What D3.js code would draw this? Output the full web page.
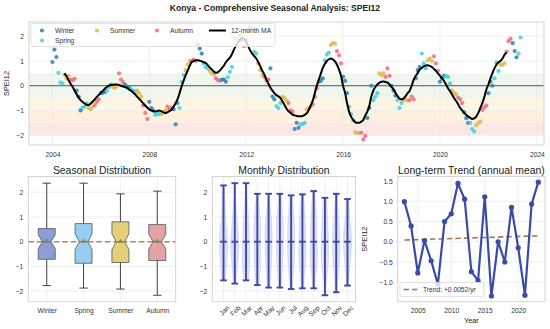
<!DOCTYPE html>
<html>
<head>
<meta charset="utf-8">
<script src="https://cdn.jsdelivr.net/npm/d3@7"></script>
<style>
body { margin: 0; background: #fff; }
svg { display: block; }
</style>
</head>
<body>
<svg id="chart" width="550" height="329"></svg>
<script>
/* data */
var seasons = ["Winter", "Spring", "Summer", "Autumn"];
var monthNames = ["Jan","Feb","Mar","Apr","May","Jun","Jul","Aug","Sep","Oct","Nov","Dec"];

// monthly SPEI12, first value is Dec 2003, last is Apr 2023
var speiStart = [2003, 12];
var spei = [
  0.96,
  1.46, 1.16, 0.52, 0.13, 0.09, 0.45, 0.30, 0.40, 0.25, 0.23, 0.28, -0.20,   // 2004
  -0.45, -1.00, -0.88, -0.84, -0.71, -0.90, -0.95, -0.85, -0.78, -0.65, -0.55, -0.30, // 2005
  -0.28, -0.25, -0.20, -0.05, 0.05, -0.05, -0.08, 0.00, 0.50, 0.25, 0.15, 0.05,   // 2006
  -0.05, -0.10, -0.15, -0.20, -0.25, -0.20, -0.30, -0.45, -0.80, -1.10, -1.35, -0.65, // 2007
  -0.90, -1.00, -1.18, -1.12, -1.15, -1.14, -1.10, -1.00, -0.84, -0.95, -0.88, -0.95, // 2008
  -1.56, -0.70, -0.90, 0.16, 0.43, 0.63, 0.85, 1.00, 1.00, 1.05, 1.00, 1.67,   // 2009
  1.50, 1.30, 0.90, 0.75, 0.70, 0.60, 0.50, 0.45, 0.30, 0.23, 0.20, 0.25,      // 2010
  0.25, 0.16, 0.35, 0.56, 0.76, 1.95, 1.87, 1.90, 2.05, 1.80, 1.60, 1.83,      // 2011
  2.25, 2.35, 2.35, 1.37, 1.30, 0.90, 0.63, 0.43, 0.36, 0.23, 0.25, 0.70,      // 2012
  -0.44, -0.55, -0.82, -0.90, -0.70, -0.45, -0.50, -0.60, -0.70, -1.00, -1.05, -1.75, // 2013
  -1.50, -1.70, -1.56, -1.55, -1.50, -0.95, -0.90, -0.85, -0.75, -0.45, -0.10, 0.16,  // 2014
  0.20, 0.30, 1.03, 1.26, 1.34, 1.65, 1.72, 1.70, 1.40, 1.23, 0.90, 0.36,      // 2015
  0.20, -0.30, -0.85, -1.15, -1.40, -1.87, -1.92, -1.90, -1.90, -2.17, -2.03, -1.30, // 2016
  -0.90, 0.00, -0.58, -0.45, -0.30, 0.50, 0.43, 0.50, 0.36, 0.70, 0.40, 0.00,  // 2017
  -0.20, -0.40, -0.58, -0.90, -0.70, -0.58, -0.55, -0.60, -0.58, -0.44, -0.55, 0.30, // 2018
  0.63, 0.76, 1.30, 0.90, 0.70, 1.03, 1.10, 1.00, 1.19, 0.90, 0.60, 0.16,      // 2019
  0.30, 0.40, 0.40, 0.35, 0.10, -0.20, -0.30, -0.35, -0.48, -0.55, -0.70, -1.08, // 2020
  -1.31, -1.50, -1.50, -1.75, -1.85, -1.60, -1.50, -1.45, -0.98, -0.87, -0.80, -0.30, // 2021
  0.16, 0.00, 0.30, 0.94, 0.60, 0.85, 0.85, 0.90, 1.37, 1.80, 1.90, 1.72,      // 2022
  1.40, 1.15, 1.30, 1.95                                                        // 2023
];

// 12-month moving average, first value is Jun 2004
var maStart = [2004, 6];
var ma12 = [
  0.50, 0.38, 0.22, 0.08, -0.04, -0.20,
  -0.35, -0.48, -0.58, -0.66, -0.72, -0.77, -0.78, -0.72, -0.64, -0.55, -0.45, -0.37,
  -0.28, -0.20, -0.12, -0.05, 0.00, 0.03, 0.04, 0.05, 0.05, 0.03, 0.00, -0.03,
  -0.05, -0.09, -0.15, -0.20, -0.27, -0.35, -0.44, -0.53, -0.62, -0.71, -0.80, -0.88,
  -0.96, -1.00, -1.03, -1.04, -1.02, -1.00, -1.03, -1.08, -1.10, -1.08, -1.02, -0.97,
  -0.85, -0.70, -0.55, -0.30, -0.04, 0.20, 0.42, 0.60, 0.80, 0.96, 1.00, 1.03,
  1.03, 1.01, 0.99, 0.95, 0.92, 0.83, 0.74, 0.66, 0.57, 0.52, 0.55, 0.62,
  0.72, 0.82, 0.95, 1.05, 1.14, 1.28, 1.47, 1.62, 1.76, 1.85, 1.94, 1.88,
  1.77, 1.60, 1.43, 1.30, 1.20, 1.10, 0.95, 0.78, 0.60, 0.45, 0.25, 0.08,
  -0.08, -0.20, -0.30, -0.38, -0.43, -0.50, -0.63, -0.78, -0.93, -1.03, -1.10, -1.17,
  -1.20, -1.22, -1.23, -1.23, -1.22, -1.18, -1.12, -0.98, -0.80, -0.60, -0.30, 0.00,
  0.25, 0.50, 0.72, 0.88, 1.00, 1.07, 1.10, 1.06, 0.98, 0.85, 0.65, 0.40,
  0.00, -0.30, -0.70, -1.05, -1.25, -1.38, -1.47, -1.50, -1.50, -1.45, -1.38, -1.20,
  -1.05, -0.80, -0.45, -0.20, -0.05, 0.05, 0.12, 0.16, 0.17, 0.15, 0.13, 0.05,
  -0.05, -0.15, -0.28, -0.42, -0.52, -0.55, -0.52, -0.42, -0.30, -0.20, 0.00, 0.25,
  0.40, 0.52, 0.65, 0.72, 0.78, 0.82, 0.83, 0.80, 0.76, 0.68, 0.60, 0.50,
  0.40, 0.30, 0.20, 0.05, -0.10, -0.22, -0.35, -0.50, -0.62, -0.75, -0.90, -1.00,
  -1.10, -1.18, -1.24, -1.30, -1.34, -1.32, -1.25, -1.10, -0.90, -0.70, -0.45, -0.15,
  0.05, 0.30, 0.50, 0.70, 0.85, 0.95, 1.00, 1.10, 1.25, 1.35
];

// drought classes shaded in the top panel
var bandLo = [-0.5, -1.0, -1.5, -2.0];
var bandHi = [0.5, -0.5, -1.0, -1.5];

// seasonal box plot
var boxLo    = [-1.77, -1.87, -1.91, -2.16];
var boxQ1    = [-0.71, -0.87, -0.84, -0.76];
var boxMed   = [0.00, 0.00, 0.00, 0.00];
var boxQ3    = [0.53, 0.73, 0.80, 0.69];
var boxHi    = [2.36, 2.36, 1.93, 2.04];
var boxMean  = [0.03, 0.02, 0.01, 0.02];
var boxNotch = [0.28, 0.32, 0.32, 0.30];

// monthly violins
var monthMax = [2.27, 2.36, 2.36, 1.93, 1.93, 1.93, 1.87, 1.91, 2.04, 1.77, 1.93, 1.72];
var monthMin = [-1.56, -1.69, -1.56, -1.75, -1.85, -1.85, -1.91, -1.88, -1.88, -2.16, -2.04, -1.77];
var monthMid = [0, 0, 0, 0, 0, 0, 0, 0, 0, 0, 0, 0];

// annual means
var years = [2003, 2004, 2005, 2006, 2007, 2008, 2009, 2010, 2011, 2012, 2013,
             2014, 2015, 2016, 2017, 2018, 2019, 2020, 2021, 2022, 2023];
var annualMean = [0.99, 0.39, -0.77, 0.03, -0.47, -1.05, 0.50, 0.69, 1.44, 1.05, -0.74,
                  -0.96, 1.11, -1.34, 0.00, -0.50, 0.85, -0.15, -1.32, 0.93, 1.47];
var trendStart = 0.042;   // fitted value in 2003
var trendSlope = 0.0052;  // per year

/* drawing */
var FONT = '"Liberation Sans", Arial, Helvetica, sans-serif';
var seasonColor = { Winter: "#2f7fb0", Spring: "#3fd0de", Summer: "#ddb650", Autumn: "#f2687f" };
var boxFill = ["#8c9fd4", "#96cdf3", "#e4d07a", "#e3a3a5"];
var bandFill = ["#eef6ee", "#fdf6e4", "#fdf0df", "#fde6e6"];
var tickCol = "#333";
var gridCol = "#ebebeb";
var frameCol = "#d4d4d4";

var svg = d3.select("#chart").attr("font-family", FONT);

function seasonOf(m0) {
  if (m0 === 11 || m0 === 0 || m0 === 1) return "Winter";
  if (m0 <= 4) return "Spring";
  if (m0 <= 7) return "Summer";
  return "Autumn";
}

function monthEnd(start, i) {
  return new Date(start[0], start[1] + i, 0);
}

function frame(x0, y0, x1, y1) {
  svg.append("rect").attr("x", x0).attr("y", y0)
      .attr("width", x1 - x0).attr("height", y1 - y0)
      .attr("fill", "none").attr("stroke", frameCol).attr("stroke-width", 1);
}

function styleAxis(g) {
  g.select(".domain").remove();
  g.attr("font-family", FONT).attr("font-size", 6.7);
  g.selectAll("text").attr("fill", tickCol);
}

/* ---------- top panel ---------- */
var T = { l: 29, r: 544, t: 22, b: 145 };

var points = spei.map(function(v, i) {
  var d = monthEnd(speiStart, i);
  return { date: d, v: v, season: seasonOf(d.getMonth()) };
});
var maData = ma12.map(function(v, i) { return { date: monthEnd(maStart, i), v: v }; });

var d0 = +points[0].date, d1 = +points[points.length - 1].date, pad = (d1 - d0) * 0.05;
var x = d3.scaleTime().domain([new Date(d0 - pad), new Date(d1 + pad)]).range([T.l, T.r]);
var ext = d3.extent(spei), ypad = (ext[1] - ext[0]) * 0.05;
var y = d3.scaleLinear().domain([ext[0] - ypad, ext[1] + ypad]).range([T.b, T.t]);

var yearTicks = d3.range(2004, 2025, 4).map(function(yr) { return new Date(yr, 0, 1); });

// bands
svg.append("g").selectAll("rect")
    .data(bandLo)
  .enter().append("rect")
    .attr("x", T.l).attr("width", T.r - T.l)
    .attr("y", function(d, i) { return y(bandHi[i]); })
    .attr("height", function(d, i) { return y(d) - y(bandHi[i]); })
    .attr("fill", function(d, i) { return bandFill[i]; });

// grid
svg.append("g").selectAll("line")
    .data(yearTicks)
  .enter().append("line")
    .attr("x1", function(d) { return x(d); }).attr("x2", function(d) { return x(d); })
    .attr("y1", T.t).attr("y2", T.b)
    .attr("stroke", gridCol).attr("stroke-width", 0.8);
svg.append("g").selectAll("line")
    .data([-2, -1, 1, 2])
  .enter().append("line")
    .attr("x1", T.l).attr("x2", T.r)
    .attr("y1", function(d) { return y(d); }).attr("y2", function(d) { return y(d); })
    .attr("stroke", gridCol).attr("stroke-width", 0.8).attr("opacity", 0.8);

// zero line
svg.append("line")
    .attr("x1", T.l).attr("x2", T.r).attr("y1", y(0)).attr("y2", y(0))
    .attr("stroke", "#555").attr("stroke-width", 1);

// monthly points
svg.append("g").selectAll("circle")
    .data(points)
  .enter().append("circle")
    .attr("cx", function(d) { return x(d.date); })
    .attr("cy", function(d) { return y(d.v); })
    .attr("r", 2.1)
    .attr("fill", function(d) { return seasonColor[d.season]; })
    .attr("opacity", 0.85);

// moving average
svg.append("path")
    .datum(maData)
    .attr("fill", "none").attr("stroke", "#000").attr("stroke-width", 2)
    .attr("stroke-linejoin", "round")
    .attr("d", d3.line()
        .x(function(d) { return x(d.date); })
        .y(function(d) { return y(d.v); })
        .curve(d3.curveMonotoneX));

frame(T.l, T.t, T.r, T.b);

svg.append("g")
    .attr("transform", "translate(0," + T.b + ")")
    .call(d3.axisBottom(x).tickValues(yearTicks).tickFormat(d3.timeFormat("%Y")).tickSize(0).tickPadding(7))
    .call(styleAxis);

svg.append("g")
    .attr("transform", "translate(" + T.l + ",0)")
    .call(d3.axisLeft(y).tickValues([-2, -1, 0, 1, 2]).tickFormat(d3.format("d")).tickSize(0).tickPadding(5))
    .call(styleAxis);

svg.append("text")
    .attr("transform", "translate(9," + ((T.t + T.b) / 2) + ") rotate(-90)")
    .attr("text-anchor", "middle").attr("font-size", 7.4).attr("fill", "#222")
    .text("SPEI12");

// legend
var lg = svg.append("g");
lg.append("rect").attr("x", 31).attr("y", 23.5).attr("width", 244).attr("height", 23)
    .attr("rx", 2).attr("fill", "#fff").attr("fill-opacity", 0.8)
    .attr("stroke", "#dcdcdc").attr("stroke-width", 0.8);
var legendPos = { Winter: [42, 30.5], Spring: [42, 40.5], Summer: [97, 30.5], Autumn: [157, 30.5] };
seasons.forEach(function(s) {
  var p = legendPos[s];
  lg.append("circle").attr("cx", p[0]).attr("cy", p[1]).attr("r", 2.1)
      .attr("fill", seasonColor[s]).attr("opacity", 0.85);
  lg.append("text").attr("x", p[0] + 13).attr("y", p[1]).attr("dy", "0.35em")
      .attr("font-size", 6.7).attr("fill", tickCol).text(s);
});
lg.append("line").attr("x1", 209).attr("x2", 226).attr("y1", 30.5).attr("y2", 30.5)
    .attr("stroke", "#000").attr("stroke-width", 2);
lg.append("text").attr("x", 231).attr("y", 30.5).attr("dy", "0.35em")
    .attr("font-size", 6.7).attr("fill", tickCol).text("12-month MA");

svg.append("text")
    .attr("x", 275).attr("y", 11).attr("text-anchor", "middle")
    .attr("font-size", 8.6).attr("font-weight", "bold").attr("fill", "#222")
    .text("Konya - Comprehensive Seasonal Analysis: SPEI12");

/* ---------- bottom panels ---------- */
var B = { t: 176.5, b: 301.7 };

function subTitle(cx, txt) {
  svg.append("text").attr("x", cx).attr("y", 174).attr("text-anchor", "middle")
      .attr("font-size", 10.4).attr("fill", "#222").text(txt);
}

// seasonal distribution
var L = { l: 28.3, r: 175.7 };
var bx = d3.scalePoint().domain(seasons).range([L.l, L.r]).padding(0.5);
var by = d3.scaleLinear().domain([-2.42, 2.63]).range([B.b, B.t]);

svg.append("g").selectAll("line")
    .data([-2, -1, 0, 1, 2])
  .enter().append("line")
    .attr("x1", L.l).attr("x2", L.r)
    .attr("y1", function(d) { return by(d); }).attr("y2", function(d) { return by(d); })
    .attr("stroke", gridCol).attr("stroke-width", 0.8);
svg.append("g").selectAll("line")
    .data(seasons)
  .enter().append("line")
    .attr("x1", function(d) { return bx(d); }).attr("x2", function(d) { return bx(d); })
    .attr("y1", B.t).attr("y2", B.b)
    .attr("stroke", gridCol).attr("stroke-width", 0.8);

var bw = 17;
var boxes = svg.append("g").selectAll("g")
    .data(seasons)
  .enter().append("g");

boxes.append("line")
    .attr("x1", function(d) { return bx(d); }).attr("x2", function(d) { return bx(d); })
    .attr("y1", function(d, i) { return by(boxHi[i]); })
    .attr("y2", function(d, i) { return by(boxQ3[i]); })
    .attr("stroke", "#444").attr("stroke-width", 1);
boxes.append("line")
    .attr("x1", function(d) { return bx(d); }).attr("x2", function(d) { return bx(d); })
    .attr("y1", function(d, i) { return by(boxQ1[i]); })
    .attr("y2", function(d, i) { return by(boxLo[i]); })
    .attr("stroke", "#444").attr("stroke-width", 1);
boxes.append("line")
    .attr("x1", function(d) { return bx(d) - 4.2; }).attr("x2", function(d) { return bx(d) + 4.2; })
    .attr("y1", function(d, i) { return by(boxHi[i]); })
    .attr("y2", function(d, i) { return by(boxHi[i]); })
    .attr("stroke", "#444").attr("stroke-width", 1);
boxes.append("line")
    .attr("x1", function(d) { return bx(d) - 4.2; }).attr("x2", function(d) { return bx(d) + 4.2; })
    .attr("y1", function(d, i) { return by(boxLo[i]); })
    .attr("y2", function(d, i) { return by(boxLo[i]); })
    .attr("stroke", "#444").attr("stroke-width", 1);

boxes.append("path")
    .attr("d", function(d, i) {
      var x0 = bx(d) - bw / 2, x1 = bx(d) + bw / 2, ins = bw * 0.25;
      var q1 = by(boxQ1[i]), q3 = by(boxQ3[i]), m = by(boxMed[i]);
      var nlo = by(boxMed[i] - boxNotch[i]), nhi = by(boxMed[i] + boxNotch[i]);
      return "M" + x0 + "," + q1 + "L" + x1 + "," + q1 + "L" + x1 + "," + nlo +
             "L" + (x1 - ins) + "," + m + "L" + x1 + "," + nhi + "L" + x1 + "," + q3 +
             "L" + x0 + "," + q3 + "L" + x0 + "," + nhi + "L" + (x0 + ins) + "," + m +
             "L" + x0 + "," + nlo + "Z";
    })
    .attr("fill", function(d, i) { return boxFill[i]; })
    .attr("stroke", "#555").attr("stroke-width", 0.8);

boxes.append("line")
    .attr("x1", function(d) { return bx(d) - bw / 4; }).attr("x2", function(d) { return bx(d) + bw / 4; })
    .attr("y1", function(d, i) { return by(boxMed[i]); })
    .attr("y2", function(d, i) { return by(boxMed[i]); })
    .attr("stroke", "#555").attr("stroke-width", 1);

boxes.append("path")
    .attr("d", d3.symbol().type(d3.symbolTriangle).size(10))
    .attr("transform", function(d, i) { return "translate(" + bx(d) + "," + by(boxMean[i]) + ")"; })
    .attr("fill", "#6b8f5e");

svg.append("line")
    .attr("x1", L.l).attr("x2", L.r).attr("y1", by(0)).attr("y2", by(0))
    .attr("stroke", "#b0764f").attr("stroke-width", 1.5).attr("stroke-dasharray", "5.5,3")
    .attr("opacity", 0.9);

frame(L.l, B.t, L.r, B.b);
svg.append("g").attr("transform", "translate(0," + B.b + ")")
    .call(d3.axisBottom(bx).tickSize(0).tickPadding(6.5))
    .call(styleAxis);
svg.append("g").attr("transform", "translate(" + L.l + ",0)")
    .call(d3.axisLeft(by).tickValues([-2, -1, 0, 1, 2]).tickFormat(d3.format("d")).tickSize(0).tickPadding(5))
    .call(styleAxis);
subTitle((L.l + L.r) / 2, "Seasonal Distribution");

// monthly distribution
var M = { l: 212.3, r: 355.5 };
var mx = d3.scaleLinear().domain([0, 11]).range([223.5, 347.5]);
var my = by.copy();

svg.append("g").selectAll("line")
    .data([-2, -1, 0, 1, 2])
  .enter().append("line")
    .attr("x1", M.l).attr("x2", M.r)
    .attr("y1", function(d) { return my(d); }).attr("y2", function(d) { return my(d); })
    .attr("stroke", gridCol).attr("stroke-width", 0.8);
svg.append("g").selectAll("line")
    .data(d3.range(12))
  .enter().append("line")
    .attr("x1", function(d) { return mx(d); }).attr("x2", function(d) { return mx(d); })
    .attr("y1", B.t).attr("y2", B.b)
    .attr("stroke", gridCol).attr("stroke-width", 0.8);

function kde(values, lo, hi) {
  var sd = d3.deviation(values), h = sd * Math.pow(values.length, -0.2);
  return d3.range(41).map(function(k) {
    var g = lo + (hi - lo) * k / 40;
    return [g, d3.mean(values, function(v) { return Math.exp(-0.5 * Math.pow((g - v) / h, 2)); })];
  });
}

var violins = d3.range(12).map(function(m) {
  var vals = points.filter(function(p) { return p.date.getMonth() === m; })
                   .map(function(p) { return p.v; });
  return kde(vals, monthMin[m], monthMax[m]);
});
var dmax = d3.max(violins, function(v) { return d3.max(v, function(p) { return p[1]; }); });
var vw = d3.scaleLinear().domain([0, dmax]).range([0, 4.3]);

svg.append("g").selectAll("path")
    .data(violins)
  .enter().append("path")
    .attr("d", function(v, m) {
      return d3.area()
          .y(function(p) { return my(p[0]); })
          .x0(function(p) { return mx(m) - vw(p[1]); })
          .x1(function(p) { return mx(m) + vw(p[1]); })
          .curve(d3.curveBasis)(v);
    })
    .attr("fill", "#8e99d6").attr("fill-opacity", 0.3)
    .attr("stroke", "#8e99d6").attr("stroke-opacity", 0.35).attr("stroke-width", 0.5);

var vcol = "#3a4ba6";
var vg = svg.append("g").attr("stroke", vcol).attr("stroke-width", 1.9);
d3.range(12).forEach(function(m) {
  var cx = mx(m);
  vg.append("line").attr("x1", cx).attr("x2", cx).attr("y1", my(monthMax[m])).attr("y2", my(monthMin[m]));
  [monthMax[m], monthMin[m], monthMid[m]].forEach(function(v) {
    vg.append("line").attr("x1", cx - 3.3).attr("x2", cx + 3.3).attr("y1", my(v)).attr("y2", my(v));
  });
});

frame(M.l, B.t, M.r, B.b);
svg.append("g").attr("transform", "translate(" + M.l + ",0)")
    .call(d3.axisLeft(my).tickValues([-2, -1, 0, 1, 2]).tickFormat(d3.format("d")).tickSize(0).tickPadding(5))
    .call(styleAxis);
svg.append("g").selectAll("text")
    .data(monthNames)
  .enter().append("text")
    .attr("transform", function(d, i) { return "translate(" + (mx(i) + 3.5) + ",305.5) rotate(-45)"; })
    .attr("text-anchor", "end").attr("dy", "0.6em")
    .attr("font-size", 6.7).attr("fill", tickCol)
    .text(function(d) { return d; });
subTitle((M.l + M.r) / 2, "Monthly Distribution");

// long-term trend
var R = { l: 397.7, r: 545 };
var tx = d3.scaleLinear().domain([years[0] - 1, years[years.length - 1] + 1]).range([R.l, R.r]);
var aext = d3.extent(annualMean), apad = (aext[1] - aext[0]) * 0.05;
var ty = d3.scaleLinear().domain([aext[0] - apad, aext[1] + apad]).range([B.b, B.t]);
var tTicks = [-1.0, -0.5, 0.0, 0.5, 1.0, 1.5];

svg.append("g").selectAll("line")
    .data(tTicks)
  .enter().append("line")
    .attr("x1", R.l).attr("x2", R.r)
    .attr("y1", function(d) { return ty(d); }).attr("y2", function(d) { return ty(d); })
    .attr("stroke", gridCol).attr("stroke-width", 0.8);
svg.append("g").selectAll("line")
    .data([2005, 2010, 2015, 2020])
  .enter().append("line")
    .attr("x1", function(d) { return tx(d); }).attr("x2", function(d) { return tx(d); })
    .attr("y1", B.t).attr("y2", B.b)
    .attr("stroke", gridCol).attr("stroke-width", 0.8);

var trendCol = "#a07c52";
svg.append("line")
    .attr("x1", tx(years[0])).attr("x2", tx(years[years.length - 1]))
    .attr("y1", ty(trendStart))
    .attr("y2", ty(trendStart + trendSlope * (years[years.length - 1] - years[0])))
    .attr("stroke", trendCol).attr("stroke-width", 1.6).attr("stroke-dasharray", "5.5,3");

var lineCol = "#3a4aa8";
svg.append("path")
    .datum(years)
    .attr("fill", "none").attr("stroke", lineCol).attr("stroke-width", 2.2)
    .attr("stroke-linejoin", "round")
    .attr("d", d3.line()
        .x(function(d) { return tx(d); })
        .y(function(d, i) { return ty(annualMean[i]); }));
svg.append("g").selectAll("circle")
    .data(years)
  .enter().append("circle")
    .attr("cx", function(d) { return tx(d); })
    .attr("cy", function(d, i) { return ty(annualMean[i]); })
    .attr("r", 2.6).attr("fill", lineCol);

frame(R.l, B.t, R.r, B.b);
svg.append("g").attr("transform", "translate(0," + B.b + ")")
    .call(d3.axisBottom(tx).tickValues([2005, 2010, 2015, 2020]).tickFormat(d3.format("d")).tickSize(0).tickPadding(6.5))
    .call(styleAxis);
svg.append("g").attr("transform", "translate(" + R.l + ",0)")
    .call(d3.axisLeft(ty).tickValues(tTicks).tickFormat(d3.format(".1f")).tickSize(0).tickPadding(5))
    .call(styleAxis);

var tl = svg.append("g");
tl.append("rect").attr("x", 400).attr("y", 282.5).attr("width", 84).attr("height", 14)
    .attr("rx", 2).attr("fill", "#fff").attr("fill-opacity", 0.8)
    .attr("stroke", "#dcdcdc").attr("stroke-width", 0.8);
tl.append("line").attr("x1", 403.5).attr("x2", 418.5).attr("y1", 289.5).attr("y2", 289.5)
    .attr("stroke", trendCol).attr("stroke-width", 1.6).attr("stroke-dasharray", "5.5,3");
tl.append("text").attr("x", 423).attr("y", 289.5).attr("dy", "0.35em")
    .attr("font-size", 6.7).attr("fill", tickCol)
    .text("Trend: +" + trendSlope.toFixed(4) + "/yr");

svg.append("text")
    .attr("transform", "translate(367," + ((B.t + B.b) / 2) + ") rotate(-90)")
    .attr("text-anchor", "middle").attr("font-size", 7.4).attr("fill", "#222")
    .text("SPEI12");
svg.append("text")
    .attr("x", (R.l + R.r) / 2).attr("y", 322.5).attr("text-anchor", "middle")
    .attr("font-size", 7.4).attr("fill", "#222").text("Year");
subTitle((R.l + R.r) / 2, "Long-term Trend (annual mean)");
</script>
</body>
</html>
